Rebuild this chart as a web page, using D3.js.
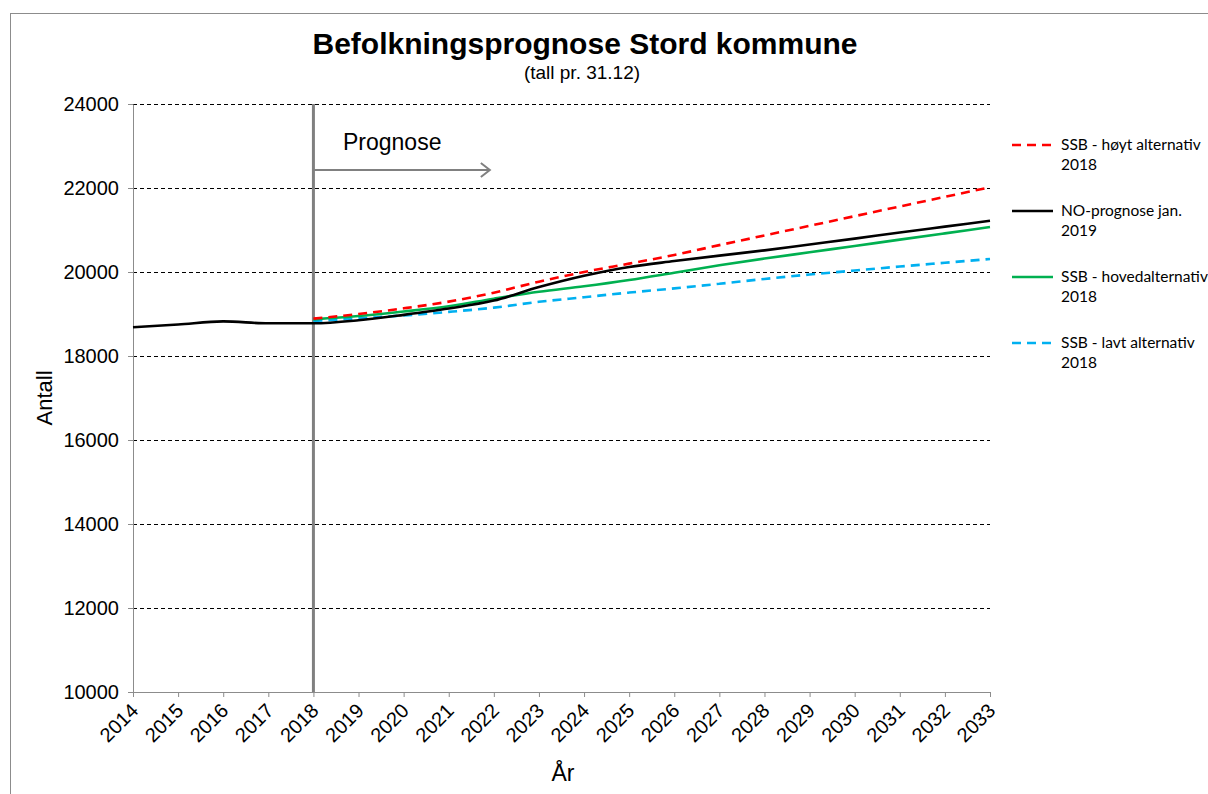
<!DOCTYPE html>
<html>
<head>
<meta charset="utf-8">
<script src="https://cdn.jsdelivr.net/npm/d3@7"></script>
<style>
  body { margin: 0; background: #fff; }
  svg { display: block; font-family: "Liberation Sans", Arial, sans-serif; }
</style>
</head>
<body>
<script>
// data
var years = [2014, 2015, 2016, 2017, 2018, 2019, 2020, 2021, 2022, 2023, 2024, 2025, 2026, 2027, 2028, 2029, 2030, 2031, 2032, 2033];
var forecastYears = [2018, 2019, 2020, 2021, 2022, 2023, 2024, 2025, 2026, 2027, 2028, 2029, 2030, 2031, 2032, 2033];
var yTicks = [10000, 12000, 14000, 16000, 18000, 20000, 22000, 24000];

var noPrognose = [18683, 18750, 18825, 18778, 18778, 18850, 18980, 19130, 19320, 19640, 19910, 20120, 20260, 20390, 20515, 20655, 20795, 20940, 21080, 21220];
var ssbHoy = [18889, 19000, 19135, 19294, 19508, 19770, 20000, 20200, 20405, 20640, 20870, 21100, 21330, 21560, 21790, 22017];
var ssbHoved = [18873, 18952, 19060, 19185, 19365, 19530, 19660, 19810, 19984, 20160, 20320, 20470, 20620, 20770, 20920, 21070];
var ssbLav = [18833, 18897, 18965, 19050, 19151, 19290, 19400, 19510, 19610, 19720, 19835, 19940, 20035, 20130, 20220, 20310];

var legendNames = [["SSB - høyt alternativ", "2018"], ["NO-prognose jan.", "2019"], ["SSB - hovedalternativ", "2018"], ["SSB - lavt alternativ", "2018"]];

var series = [
  { name: legendNames[0], yrs: forecastYears, vals: ssbHoy, color: "#ff0000", dash: "9,6" },
  { name: legendNames[1], yrs: years, vals: noPrognose, color: "#000000", dash: null },
  { name: legendNames[2], yrs: forecastYears, vals: ssbHoved, color: "#00b050", dash: null },
  { name: legendNames[3], yrs: forecastYears, vals: ssbLav, color: "#00b0f0", dash: "9,6" }
];

var W = 1208, H = 794;
var plot = { left: 133, right: 990, top: 104, bottom: 692 };

var svg = d3.select("body").append("svg")
  .attr("width", W)
  .attr("height", H);

// outer chart border
svg.append("rect")
  .attr("x", 10.5).attr("y", 13.5)
  .attr("width", 1400).attr("height", 1000)
  .attr("fill", "none")
  .attr("stroke", "#8c8c8c")
  .attr("stroke-width", 1);

var x = d3.scaleLinear().domain([2014, 2033]).range([plot.left, plot.right]);
var y = d3.scaleLinear().domain([10000, 24000]).range([plot.bottom, plot.top]);

// grid lines
svg.append("g")
  .selectAll("line")
  .data(yTicks.filter(function(d) { return d > 10000; }))
  .enter().append("line")
  .attr("x1", plot.left).attr("x2", plot.right)
  .attr("y1", function(d) { return y(d) + 0.5; })
  .attr("y2", function(d) { return y(d) + 0.5; })
  .attr("stroke", "#000")
  .attr("stroke-width", 1)
  .attr("stroke-dasharray", "4,3");

// axes
var yAxis = svg.append("g")
  .attr("transform", "translate(" + plot.left + ",0)")
  .call(d3.axisLeft(y).tickValues(yTicks).tickSize(5).tickSizeOuter(0).tickFormat(d3.format("d")));
yAxis.select(".domain").attr("stroke", "#8c8c8c");
yAxis.selectAll(".tick line").attr("stroke", "#8c8c8c");
yAxis.selectAll(".tick text")
  .attr("x", -14)
  .attr("fill", "#000")
  .style("font-size", "20px")
  .style("font-family", "Liberation Sans, Arial, sans-serif");

var xAxis = svg.append("g")
  .attr("transform", "translate(0," + plot.bottom + ")")
  .call(d3.axisBottom(x).tickValues(years).tickSize(5).tickSizeOuter(0).tickFormat(d3.format("d")));
xAxis.select(".domain").attr("stroke", "#8c8c8c");
xAxis.selectAll(".tick line").attr("stroke", "#8c8c8c");
xAxis.selectAll(".tick text")
  .attr("x", 0).attr("y", 0).attr("dy", 0)
  .attr("transform", "translate(6,20) rotate(-45)")
  .style("text-anchor", "end")
  .attr("fill", "#000")
  .style("font-size", "20px")
  .style("font-family", "Liberation Sans, Arial, sans-serif");

// prognose marker
svg.append("line")
  .attr("x1", x(2018)).attr("x2", x(2018))
  .attr("y1", plot.top).attr("y2", plot.bottom)
  .attr("stroke", "#808080")
  .attr("stroke-width", 3);

svg.append("line")
  .attr("x1", x(2018)).attr("x2", x(2022) - 4)
  .attr("y1", 170).attr("y2", 170)
  .attr("stroke", "#808080")
  .attr("stroke-width", 2);
svg.append("path")
  .attr("d", "M" + (x(2022) - 13) + ",163 L" + (x(2022) - 4) + ",170 L" + (x(2022) - 13) + ",177")
  .attr("fill", "none")
  .attr("stroke", "#808080")
  .attr("stroke-width", 2);

svg.append("text")
  .attr("x", 343).attr("y", 150)
  .style("font-size", "23px")
  .text("Prognose");

// lines
var line = d3.line()
  .x(function(d) { return x(d[0]); })
  .y(function(d) { return y(d[1]); })
  .curve(d3.curveMonotoneX);

// draw order: blue, green, red, black
[3, 2, 0, 1].forEach(function(i) {
  var s = series[i];
  svg.append("path")
    .datum(d3.zip(s.yrs, s.vals))
    .attr("d", line)
    .attr("fill", "none")
    .attr("stroke", s.color)
    .attr("stroke-width", 2.6)
    .attr("stroke-dasharray", s.dash);
});

// title
svg.append("text")
  .attr("x", 585).attr("y", 54)
  .attr("text-anchor", "middle")
  .style("font-size", "30px")
  .style("font-weight", "bold")
  .text("Befolkningsprognose Stord kommune");
svg.append("text")
  .attr("x", 582).attr("y", 79)
  .attr("text-anchor", "middle")
  .style("font-size", "19px")
  .text("(tall pr. 31.12)");

// axis titles
svg.append("text")
  .attr("transform", "translate(52,398) rotate(-90)")
  .attr("text-anchor", "middle")
  .style("font-size", "22px")
  .text("Antall");
svg.append("text")
  .attr("x", 563).attr("y", 781)
  .attr("text-anchor", "middle")
  .style("font-size", "23px")
  .text("År");

// legend
var legend = svg.selectAll(".legend")
  .data(series)
  .enter().append("g")
  .attr("class", "legend")
  .attr("transform", function(d, i) { return "translate(1012," + (145 + i * 66) + ")"; });

legend.append("line")
  .attr("x1", 0).attr("x2", 41)
  .attr("stroke", function(d) { return d.color; })
  .attr("stroke-width", 2.6)
  .attr("stroke-dasharray", function(d) { return d.dash; });

legend.append("text")
  .attr("x", 49).attr("y", 5)
  .style("font-family", "Lato, 'Open Sans', sans-serif")
  .style("font-size", "15.5px")
  .text(function(d) { return d.name[0]; });
legend.append("text")
  .attr("x", 49).attr("y", 25)
  .style("font-family", "Lato, 'Open Sans', sans-serif")
  .style("font-size", "15.5px")
  .text(function(d) { return d.name[1]; });
</script>
</body>
</html>
